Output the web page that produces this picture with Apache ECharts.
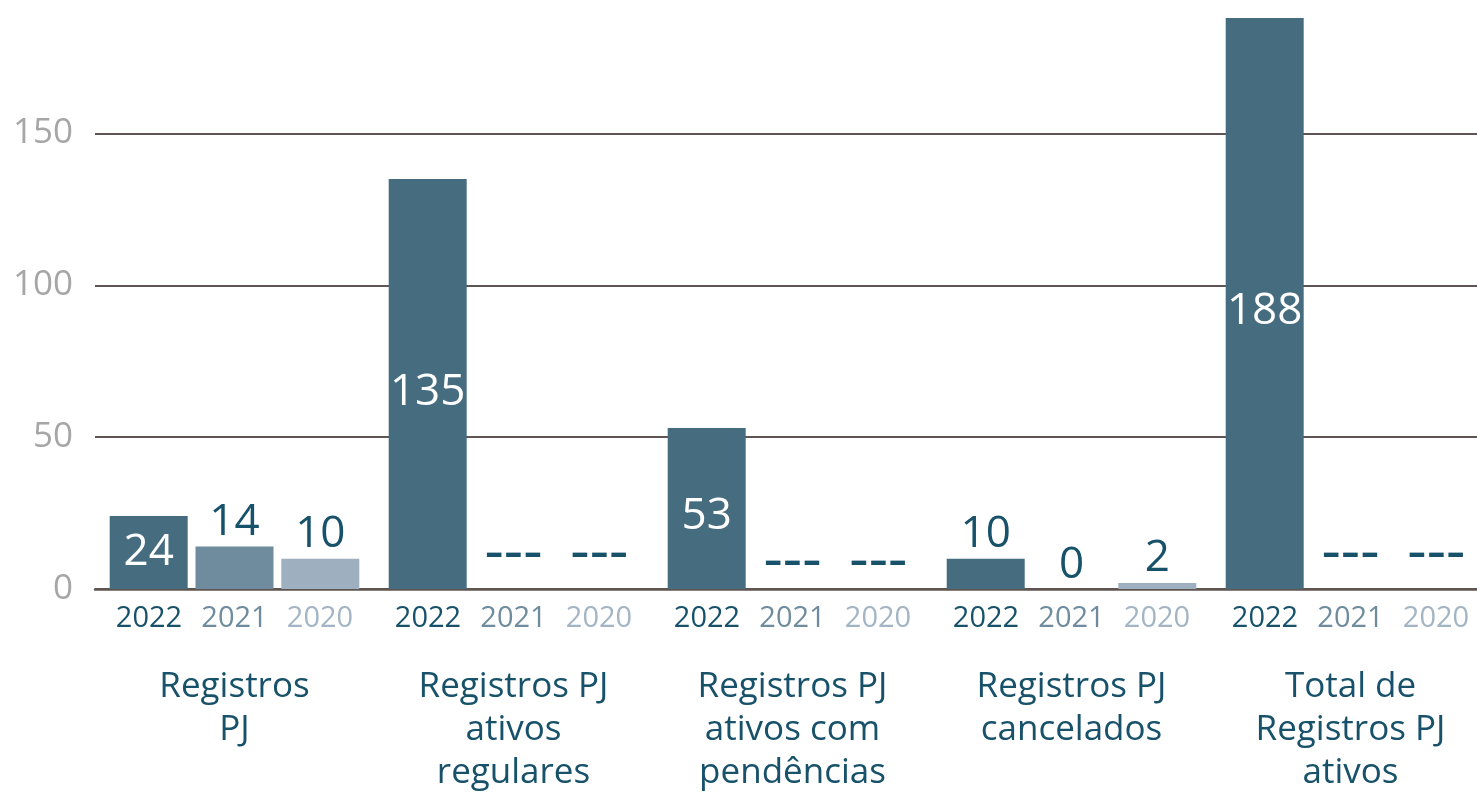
<!DOCTYPE html>
<html>
<head>
<meta charset="utf-8">
<script src="https://cdn.jsdelivr.net/npm/echarts@6/dist/echarts.min.js"></script>
<style>
  html, body { margin: 0; padding: 0; background: #fff; }
  #chart { width: 1477px; height: 794px; }
</style>
</head>
<body>
<div id="chart"></div>
<script>
// dados do gráfico
const groups = [
  'Registros\nPJ',
  'Registros PJ\nativos\nregulares',
  'Registros PJ\nativos com\npendências',
  'Registros PJ\ncancelados',
  'Total de\nRegistros PJ\nativos'
];
const years = ['2022', '2021', '2020'];
const values2022 = [24, 135, 53, 10, 188];
const values2021 = [14, null, null, 0, null];
const values2020 = [10, null, null, 2, null];
const yTicks = [0, 50, 100, 150];

const barColors = ['#466c80', '#6f8c9e', '#9eb0bf'];
const textDark = '#17516a';
const gridColor = '#5f5552';
const font = 'Open Sans, sans-serif';

// monta os pontos: sem valor vira "---"
const buildData = (values, isMain) =>
  values.map((v, i) => {
    if (v === null) {
      return {
        value: 0,
        label: {
          formatter: '---',
          fontSize: 60,
          color: textDark,
          position: 'top',
          offset: [0, i === 2 ? 5 : -3]
        }
      };
    }
    if (isMain && v >= 20) {
      return {
        value: v,
        label: { position: 'inside', color: '#fff', offset: [0, v >= 50 ? 8 : 0] }
      };
    }
    return { value: v };
  });

const chart = echarts.init(document.getElementById('chart'));

const seriesList = [values2022, values2021, values2020].map((vals, idx) => ({
  name: years[idx],
  type: 'bar',
  data: buildData(vals, idx === 0),
  barWidth: 78,
  barGap: '10%',
  itemStyle: { color: barColors[idx] },
  label: {
    show: true,
    position: 'top',
    distance: 2,
    fontSize: 44,
    fontFamily: font,
    color: textDark
  }
}));

chart.setOption({
  animation: false,
  grid: { left: 95, top: 18, width: 1395, bottom: 205, outerBoundsMode: 'none', containLabel: false },
  xAxis: [
    {
      type: 'category',
      data: groups,
      position: 'bottom',
      axisLine: { lineStyle: { color: gridColor, width: 2.5 } },
      axisTick: { show: false },
      axisLabel: {
        interval: 0,
        margin: 12,
        formatter: () => `{a|${years[0]}}{b|${years[1]}}{c|${years[2]}}`,
        rich: {
          a: { width: 85.5, align: 'center', fontSize: 29, lineHeight: 36, fontFamily: font, color: textDark },
          b: { width: 85.5, align: 'center', fontSize: 29, lineHeight: 36, fontFamily: font, color: '#6f8c9e' },
          c: { width: 85.5, align: 'center', fontSize: 29, lineHeight: 36, fontFamily: font, color: '#a3b5c4' }
        }
      }
    },
    {
      type: 'category',
      data: groups,
      position: 'bottom',
      axisLine: { show: false },
      axisTick: { show: false },
      axisLabel: {
        interval: 0,
        margin: 77,
        fontSize: 35,
        lineHeight: 43,
        fontFamily: font,
        color: textDark
      }
    }
  ],
  yAxis: {
    type: 'value',
    min: yTicks[0],
    max: 188,
    interval: 50,
    axisLine: { show: false },
    axisTick: { show: false },
    axisLabel: {
      margin: 22,
      fontSize: 35,
      fontFamily: font,
      color: '#a6a6a6',
      showMaxLabel: false
    },
    splitLine: {
      showMaxLine: false,
      lineStyle: { color: gridColor, width: 2 }
    }
  },
  series: seriesList
});
</script>
</body>
</html>
